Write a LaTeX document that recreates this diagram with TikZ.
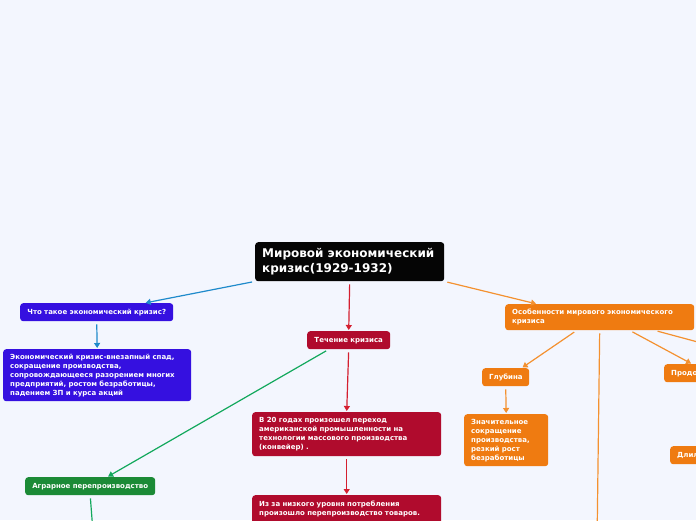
\documentclass[tikz,border=0pt]{standalone}
\usepackage{fontspec}
\setmainfont{DejaVu Sans}
\usepackage{xcolor}
\usepackage{tikz}
\usetikzlibrary{arrows.meta,positioning,calc}

\definecolor{bgcol}{HTML}{F3F6FE}
\definecolor{rootcol}{HTML}{050505}
\definecolor{bluebox}{HTML}{3510E0}
\definecolor{blueline}{HTML}{1E8ACB}
\definecolor{redbox}{HTML}{B00B2D}
\definecolor{redline}{HTML}{D41F30}
\definecolor{greenbox}{HTML}{1B8A36}
\definecolor{greenline}{HTML}{12A85C}
\definecolor{orangebox}{HTML}{EF7B11}
\definecolor{orangeline}{HTML}{F39130}

\begin{document}
\begin{tikzpicture}[x=1pt, y=-1pt,
  topic/.style={rounded corners=3pt, text=white, anchor=north west, inner xsep=7pt, inner ysep=0pt,
    font=\fontsize{7}{9}\selectfont\bfseries, align=left},
  link/.style={line width=1.2pt, -{Triangle[width=6pt,length=5pt]}, shorten <=3pt, shorten >=1pt}]
  % canvas
  \fill[bgcol] (0,0) rectangle (696,520);
  \useasboundingbox (0,0) rectangle (696,520);
  \clip (0,0) rectangle (696,520);

  % Root
  \node[topic, fill=rootcol, font=\fontsize{12}{15}\selectfont\bfseries, text width=175pt, minimum height=39pt]
    (root) at (255,242) {Мировой экономический\\кризис(1929-1932)};

  % What is a crisis
  \node[topic, fill=bluebox, align=center, text width=139pt, minimum height=18pt]
    (what) at (20,303) {Что такое экономический кризис?};
  \node[topic, fill=bluebox, text width=174pt, minimum height=52pt]
    (define) at (3,349) {Экономический кризис-внезапный спад,\\сокращение производства,\\сопровождающееся разорением многих\\предприятий, ростом безработицы,\\падением ЗП и курса акций};

  % Course of the crisis
  \node[topic, fill=redbox, align=center, text width=69pt, minimum height=18pt]
    (course) at (307,331) {Течение кризиса};
  \node[topic, fill=redbox, text width=175pt, minimum height=44pt]
    (stage1) at (252,412) {В 20 годах произошел переход\\американской промышленности на\\технологии массового производства\\(конвейер) .};
  \node[topic, fill=redbox, text width=175pt, inner ysep=6pt]
    (stage2) at (252,495) {Из за низкого уровня потребления\\произошло перепроизводство товаров.\\[20pt]\mbox{}};
  \node[topic, fill=greenbox, align=center, text width=116pt, minimum height=18pt]
    (agrar) at (25,477) {Аграрное перепроизводство};
  \coordinate (agrarnext) at (94,545);

  % Features
  \node[topic, fill=orangebox, text width=175pt, minimum height=26pt]
    (feat) at (505,304) {Особенности мирового экономического\\кризиса};
  \node[topic, fill=orangebox, align=center, text width=33pt, minimum height=18pt]
    (depth) at (482,368) {Глубина};
  \node[topic, fill=orangebox, text width=70pt, minimum height=52pt]
    (depthtxt) at (464,414) {Значительное\\сокращение\\производства,\\резкий рост\\безработицы};
  \node[topic, fill=orangebox, text width=80pt, minimum height=18pt]
    (length) at (664,364) {Продолжительность};
  \node[topic, fill=orangebox, text width=80pt, minimum height=18pt]
    (lasted) at (670,446) {Длился};
  \coordinate (featdown) at (597,545);
  \coordinate (featright) at (720,348);

  % connectors
  \draw[link, blueline] (root.south west) -- ([xshift=48pt]what.north);
  \draw[link, blueline] (what.south) -- (define.north);
  \draw[link, redline] (root.south) -- (course.north);
  \draw[link, redline] (course.south) -- (stage1.north);
  \draw[link, redline] (stage1.south) -- (stage2.north);
  \draw[link, greenline] ([xshift=-20pt]course.south) -- ([xshift=17pt]agrar.north);
  \draw[line width=1.2pt, greenline, shorten <=3pt] (agrar.south) -- (agrarnext);
  \draw[link, orangeline] (root.south east) -- ([xshift=32pt]feat.north west);
  \draw[link, orangeline] ([xshift=-23pt]feat.south) -- ([xshift=16pt]depth.north);
  \draw[link, orangeline] (depth.south) -- (depthtxt.north);
  \draw[line width=1.2pt, orangeline, shorten <=3pt] (feat.south) -- (featdown);
  \draw[link, orangeline] ([xshift=30pt]feat.south) -- ([xshift=28pt]length.north west);
  \draw[line width=1.2pt, orangeline, shorten <=3pt] ([xshift=55pt]feat.south) -- (featright);
\end{tikzpicture}
\end{document}
